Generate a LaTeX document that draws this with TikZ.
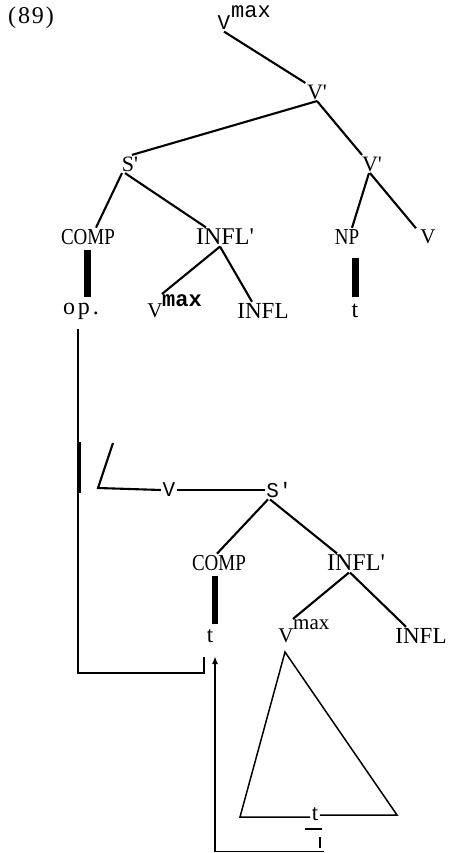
\documentclass[tikz,border=0pt]{standalone}
\usepackage{fontspec}
\setmainfont{Liberation Serif}
\setmonofont{Liberation Mono}
\usetikzlibrary{arrows.meta,calc}
\newcommand{\tall}[1]{\scalebox{1}[1.2]{#1}}
\newcommand{\ap}{\textquotesingle}
\tikzset{
  lab/.style={inner sep=1.5pt, font=\fontsize{21}{21}\selectfont},
  labbig/.style={inner sep=1.5pt, font=\fontsize{23}{23}\selectfont},
  labmono/.style={inner sep=1.5pt, font=\ttfamily\fontsize{21}{21}\selectfont},
  edge/.style={line width=2.1pt},
  bar/.style={line width=7pt},
  move/.style={line width=1.2pt},
}
\begin{document}
\begin{tikzpicture}[x=1pt,y=-1pt]
\useasboundingbox (0,0) rectangle (449,853);
% label number
\node[labbig,font=\addfontfeature{LetterSpace=8}\fontsize{24}{24}\selectfont] (num) at (31,18) {(89)};
% top tree
\node[labmono] (top) at (224,23) {V};
\node[inner sep=0pt, font=\ttfamily\fontsize{22}{22}\selectfont, anchor=base west] (topsup) at (231,18) {max};
\node[lab,font=\fontsize{22}{22}\selectfont] (vb1) at (317,92) {V\ap};
\node[lab,font=\fontsize{22}{22}\selectfont] (s1) at (130,164) {S\ap};
\node[lab,font=\fontsize{22}{22}\selectfont] (vb2) at (372,164) {V\ap};
\node[lab,font=\fontsize{19}{19}\selectfont] (comp) at (88,237) {\tall{COMP}};
\node[labbig,font=\fontsize{24}{24}\selectfont] (infl) at (225,237) {INFL\ap};
\node[lab,font=\fontsize{19}{19}\selectfont] (np) at (347,237) {\tall{NP}};
\node[lab] (vv) at (428,237) {V};
\node[labbig,font=\addfontfeature{LetterSpace=12}\fontsize{24}{24}\selectfont] (op) at (81,311) {op.};
\node[lab] (vm1) at (155,311) {V};
\node[inner sep=0pt, font=\ttfamily\bfseries\fontsize{22}{22}\selectfont, anchor=base west] (vm1sup) at (162,306) {max};
\node[labbig] (inf1) at (263,311) {INFL};
\node[labbig,font=\fontsize{24}{24}\selectfont] (t1) at (355,311) {t};

\draw[edge] (top.south) -- (vb1.north west);
\draw[edge] (vb1.south) -- ([xshift=2]s1.north);
\draw[edge] (vb1.south) -- ([xshift=-10]vb2.north);
\draw[edge] ([xshift=-8]s1.south) -- ([xshift=8]comp.north);
\draw[edge] ([xshift=-5]s1.south) -- ([xshift=-19]infl.north);
\draw[edge] ([xshift=-3]vb2.south) -- ([xshift=5]np.north);
\draw[edge] ([xshift=-2]vb2.south) -- ([xshift=-12]vv.north);
\draw[edge] ([xshift=-5]infl.south) -- (vm1sup.north west);
\draw[edge] ([xshift=-5]infl.south) -- ([xshift=-11]inf1.north);
\draw[bar, shorten <=4pt, shorten >=4pt] ([xshift=-1]comp.south) -- ([xshift=-1]comp.south |- op.north);
\draw[bar, shorten <=12pt, shorten >=5pt] (t1.north |- np.south) -- (t1.north);

% movement line from op.
\coordinate (hook) at (204,673);
\coordinate (hooktop) at (204,657);
\draw[move] ([xshift=-3]op.south) ++(0,8) |- (hook) -- (hooktop);
\draw[line width=2.4pt] (79.5,442) -- (79.5,493);

% lower tree
\node[labmono] (vlow) at (169,490) {V};
\node[labmono] (s2) at (279,490) {S'};
\coordinate (L1) at (113,443);
\coordinate (L2) at (98,488);
\draw[edge] (L1) -- (L2) -- (vlow.west);
\draw[edge] (vlow.east) -- (s2.west);
\node[lab,font=\fontsize{19}{19}\selectfont] (comp2) at (219,563) {\tall{COMP}};
\node[labbig,font=\fontsize{24}{24}\selectfont] (infl2) at (356,563) {INFL\ap};
\node[labbig] (t2) at (210,636) {t};
\node[lab] (vm2) at (286,636) {V};
\node[inner sep=0pt, font=\fontsize{21}{21}\selectfont, anchor=base west] (vm2sup) at (293,629) {max};
\node[labbig] (inf3) at (421,636) {INFL};

\draw[edge] ([xshift=-11]s2.south) -- ([xshift=-2]comp2.north);
\draw[edge] ([xshift=-9]s2.south) -- ([xshift=-19]infl2.north);
\draw[edge] ([xshift=-7]infl2.south) -- (vm2sup.north west);
\draw[edge] ([xshift=-6]infl2.south) -- ([xshift=-15]inf3.north);
\draw[bar, line width=6pt, shorten <=4pt, shorten >=4pt] ([xshift=-4]comp2.south) -- ([xshift=5]t2.north);

% triangle
\node[labbig] (tt) at (315,814) {t};
\coordinate (apex) at (285,652);
\coordinate (tl) at (240,817);
\coordinate (tr) at (397,815);
\draw[line width=1.5pt] (tt.west |- tl) -- (tl) -- (apex) -- (tr) -- (tr -| tt.east);
\draw[line width=2pt] (305,829) -- (322,829);
\draw[line width=2pt] (320,837) -- (320,848);
\coordinate (br) at (324,851.5);
\coordinate (bl) at (215,851.5);
\coordinate (arrtip) at (215,656);
\draw[line width=1.5pt] (br) -- (bl);
\draw[line width=1.7pt, -{Latex[length=8pt,width=6pt]}] (bl) -- (arrtip);
\end{tikzpicture}
\end{document}
